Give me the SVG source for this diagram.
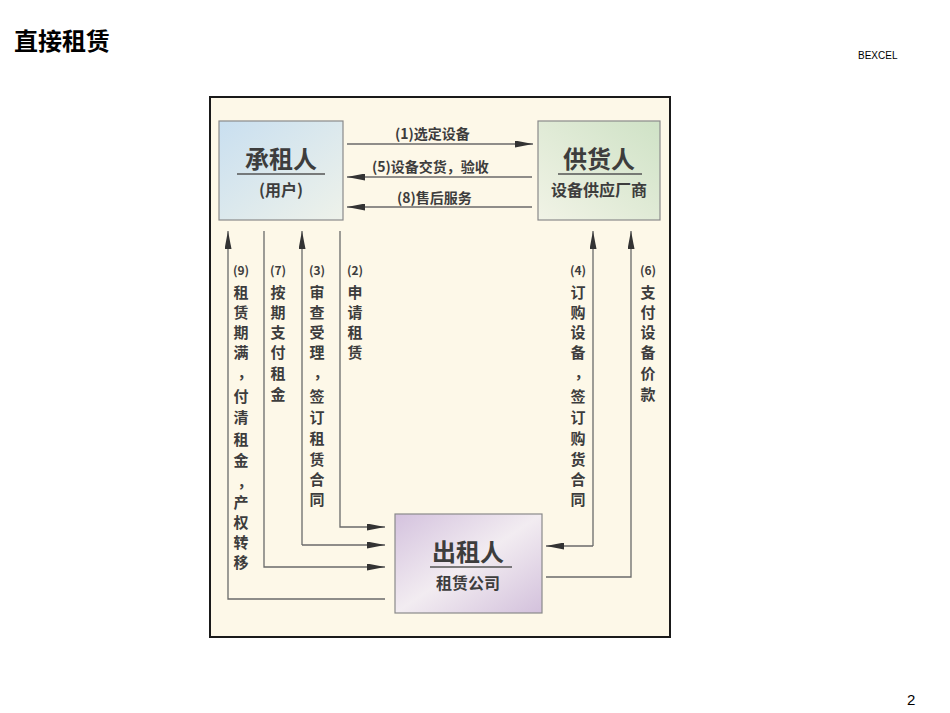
<svg xmlns="http://www.w3.org/2000/svg" width="950" height="713" viewBox="0 0 950 713">
<defs>
<linearGradient id="gBlue" x1="0" y1="0" x2="1" y2="1"><stop offset="0" stop-color="#c9dff0"/><stop offset="1" stop-color="#eef2ea"/></linearGradient>
<linearGradient id="gGreen" x1="1" y1="0" x2="0" y2="1"><stop offset="0" stop-color="#cfe2c6"/><stop offset="1" stop-color="#f1f3e6"/></linearGradient>
<linearGradient id="gPurple" x1="0" y1="0" x2="1" y2="1"><stop offset="0" stop-color="#d4c2de"/><stop offset="0.5" stop-color="#f2ecf1"/><stop offset="1" stop-color="#d3c1dc"/></linearGradient>
<marker id="ah" markerUnits="userSpaceOnUse" markerWidth="18" markerHeight="7" refX="18" refY="3.5" orient="auto">
<path d="M0,0 L18,3.5 L0,7 Z" fill="#333"/>
</marker>
<style>
.frame{fill:#fdf8e8;stroke:#1a1a1a;stroke-width:2}
.box{stroke:#8a8a8a;stroke-width:1.2}
.ln{fill:none;stroke:#6a6a6a;stroke-width:1.3}
.arr{marker-end:url(#ah)}
.t{font-family:"Noto Sans CJK SC","Noto Sans",sans-serif;font-weight:bold;fill:#3d3d3d}
.lab{font-size:14px}
.col{font-size:15px;text-anchor:middle}
.big{font-size:24px;text-anchor:middle}
.sub{font-size:16px;text-anchor:middle}
.ul{stroke:#555;stroke-width:1.3}
</style>
</defs>
<rect width="950" height="713" fill="#ffffff"/>
<text x="14" y="50" font-family="Noto Sans CJK SC, sans-serif" font-weight="bold" font-size="24" fill="#000">直接租赁</text>
<text x="858" y="59" font-family="Liberation Sans, sans-serif" font-size="10" fill="#000">BEXCEL</text>
<text x="907" y="705" font-family="Liberation Sans, sans-serif" font-size="15" fill="#000">2</text>

<rect class="frame" x="210" y="97" width="460" height="540"/>

<g id="node-lessee">
<rect class="box" x="219" y="121" width="124" height="99" fill="url(#gBlue)"/>
<text class="t big" x="281" y="168">承租人</text>
<line class="ul" x1="237" y1="174" x2="325" y2="174"/>
<text class="t sub" x="281" y="196">(用户)</text>
</g>

<g id="node-supplier">
<rect class="box" x="538" y="121" width="122" height="99" fill="url(#gGreen)"/>
<text class="t big" x="599" y="168">供货人</text>
<line class="ul" x1="558" y1="174" x2="642" y2="174"/>
<text class="t sub" x="599" y="196">设备供应厂商</text>
</g>

<g id="node-lessor">
<rect class="box" x="395" y="514" width="147" height="99" fill="url(#gPurple)"/>
<text class="t big" x="468" y="561">出租人</text>
<line class="ul" x1="430" y1="567" x2="512" y2="567"/>
<text class="t sub" x="468" y="589">租赁公司</text>
</g>

<g id="connectors">
<line class="ln arr" x1="347" y1="144" x2="533" y2="144"/>
<line class="ln arr" x1="532" y1="177" x2="347" y2="177"/>
<line class="ln arr" x1="532" y1="207" x2="347" y2="207"/>
<polyline class="ln arr" points="385,599 228,599 228,231"/>
<polyline class="ln arr" points="264,231 264,567 385,567"/>
<polyline class="ln arr" points="302,545 302,231"/>
<line class="ln arr" x1="302" y1="545" x2="385" y2="545"/>
<polyline class="ln arr" points="340,231 340,527 385,527"/>
<polyline class="ln arr" points="593,546 593,231"/>
<line class="ln arr" x1="593" y1="546" x2="546" y2="546"/>
<polyline class="ln arr" points="546,577 631,577 631,231"/>
</g>

<g id="labels">
<text class="t lab" x="395" y="139">(1)选定设备</text>
<text class="t lab" x="372" y="172">(5)设备交货，验收</text>
<text class="t lab" x="397" y="203">(8)售后服务</text>

<text class="t col" x="241"><tspan x="241" y="275" font-size="12">(9)</tspan><tspan x="241" y="298">租</tspan><tspan x="241" y="318">赁</tspan><tspan x="241" y="338">期</tspan><tspan x="241" y="358">满</tspan><tspan x="245" y="378">，</tspan><tspan x="241" y="402">付</tspan><tspan x="241" y="423">清</tspan><tspan x="241" y="445">租</tspan><tspan x="241" y="466">金</tspan><tspan x="245" y="487">，</tspan><tspan x="241" y="508">产</tspan><tspan x="241" y="528">权</tspan><tspan x="241" y="548">转</tspan><tspan x="241" y="568">移</tspan></text>

<text class="t col" x="278"><tspan x="278" y="275" font-size="12">(7)</tspan><tspan x="278" y="298">按</tspan><tspan x="278" y="318">期</tspan><tspan x="278" y="338">支</tspan><tspan x="278" y="358">付</tspan><tspan x="278" y="379">租</tspan><tspan x="278" y="400">金</tspan></text>

<text class="t col" x="317"><tspan x="317" y="275" font-size="12">(3)</tspan><tspan x="317" y="298">审</tspan><tspan x="317" y="318">查</tspan><tspan x="317" y="338">受</tspan><tspan x="317" y="358">理</tspan><tspan x="321" y="378">，</tspan><tspan x="317" y="402">签</tspan><tspan x="317" y="423">订</tspan><tspan x="317" y="444">租</tspan><tspan x="317" y="465">赁</tspan><tspan x="317" y="485">合</tspan><tspan x="317" y="505">同</tspan></text>

<text class="t col" x="355"><tspan x="355" y="275" font-size="12">(2)</tspan><tspan x="355" y="298">申</tspan><tspan x="355" y="318">请</tspan><tspan x="355" y="338">租</tspan><tspan x="355" y="358">赁</tspan></text>

<text class="t col" x="578"><tspan x="578" y="275" font-size="12">(4)</tspan><tspan x="578" y="298">订</tspan><tspan x="578" y="318">购</tspan><tspan x="578" y="338">设</tspan><tspan x="578" y="358">备</tspan><tspan x="582" y="378">，</tspan><tspan x="578" y="402">签</tspan><tspan x="578" y="423">订</tspan><tspan x="578" y="444">购</tspan><tspan x="578" y="465">货</tspan><tspan x="578" y="485">合</tspan><tspan x="578" y="505">同</tspan></text>

<text class="t col" x="648"><tspan x="648" y="275" font-size="12">(6)</tspan><tspan x="648" y="298">支</tspan><tspan x="648" y="318">付</tspan><tspan x="648" y="338">设</tspan><tspan x="648" y="358">备</tspan><tspan x="648" y="379">价</tspan><tspan x="648" y="400">款</tspan></text>
</g>
</svg>
